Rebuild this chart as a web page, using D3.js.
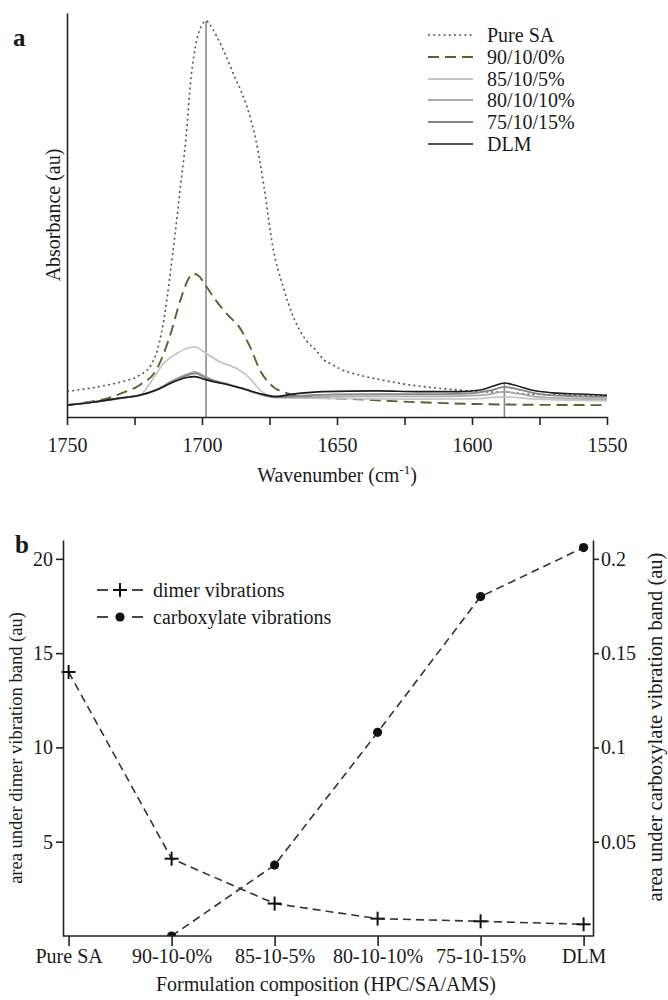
<!DOCTYPE html>
<html><head><meta charset="utf-8">
<script src="https://cdn.jsdelivr.net/npm/d3@7"></script>
<style>
body{margin:0;background:#fff}
svg{display:block}
text{font-family:"Liberation Serif","Times New Roman",serif;fill:#1a1a1a}
</style>
</head><body>
<svg id="c" width="668" height="1000"></svg>
<script>
// ---------- Panel a data (wavenumber, absorbance au) ----------
const wnTicks = [1750,1725,1700,1675,1650,1625,1600,1575,1550];
const wnLabels = ["1750","","1700","","1650","","1600","","1550"];

const pureSA = [[1750,0.065],[1742,0.072],[1735,0.081],[1729,0.090],[1723,0.106],[1719,0.13],[1716.5,0.17],[1714,0.25],[1712,0.35],[1710,0.46],[1708,0.58],[1706,0.70],[1704,0.86],[1702,0.95],[1700,0.99],[1698.5,1.0],[1697,0.99],[1694.3,0.958],[1691,0.91],[1688,0.86],[1685.6,0.824],[1683.3,0.782],[1680,0.698],[1677,0.58],[1673.8,0.43],[1670,0.33],[1666,0.25],[1661,0.19],[1658,0.17],[1655,0.145],[1652,0.133],[1649,0.122],[1640,0.103],[1633,0.093],[1625,0.083],[1617,0.076],[1608,0.070],[1601,0.066],[1595,0.063],[1588,0.063],[1580,0.058],[1570,0.056],[1560,0.055],[1550,0.054]];

const f90 = [[1750,0.030],[1742,0.038],[1735,0.047],[1729,0.062],[1723,0.081],[1717,0.118],[1712,0.202],[1708,0.295],[1705,0.349],[1703.2,0.362],[1701,0.355],[1699.5,0.341],[1695.8,0.303],[1690.9,0.261],[1686,0.225],[1682.2,0.177],[1678.5,0.118],[1673.6,0.076],[1668.6,0.060],[1661,0.051],[1651,0.047],[1640,0.044],[1626,0.039],[1610,0.035],[1600,0.033],[1580,0.031],[1550,0.030]];

const f85 = [[1750,0.030],[1740,0.038],[1730,0.047],[1723,0.055],[1719.3,0.085],[1714.3,0.135],[1709.4,0.160],[1705.7,0.173],[1702.6,0.177],[1698.3,0.160],[1693.3,0.139],[1689,0.128],[1686,0.118],[1682.2,0.097],[1678.5,0.068],[1673.6,0.051],[1660,0.048],[1640,0.046],[1620,0.045],[1600,0.046],[1588,0.051],[1576,0.045],[1550,0.041]];

const f80 = [[1750,0.030],[1740,0.038],[1730,0.048],[1723,0.055],[1717,0.068],[1711,0.091],[1706,0.107],[1702.5,0.114],[1699,0.103],[1695,0.091],[1690,0.082],[1684,0.069],[1678,0.056],[1673,0.049],[1665,0.049],[1650,0.052],[1630,0.052],[1610,0.052],[1600,0.054],[1593,0.058],[1588,0.064],[1583,0.059],[1575,0.050],[1565,0.047],[1550,0.045]];

const f75 = [[1750,0.030],[1740,0.038],[1730,0.048],[1723,0.055],[1717,0.068],[1711,0.090],[1706,0.104],[1702.5,0.110],[1699,0.100],[1695,0.090],[1690,0.082],[1684,0.070],[1678,0.057],[1673,0.050],[1665,0.053],[1650,0.057],[1630,0.058],[1610,0.058],[1600,0.060],[1593,0.067],[1588,0.076],[1583,0.070],[1575,0.058],[1565,0.053],[1550,0.051]];

const dlm = [[1750,0.030],[1740,0.038],[1730,0.048],[1723,0.055],[1717,0.068],[1711,0.087],[1706,0.099],[1702.5,0.102],[1699,0.095],[1695,0.088],[1690,0.081],[1684,0.070],[1678,0.058],[1673,0.052],[1665,0.059],[1655,0.064],[1635,0.066],[1620,0.064],[1605,0.064],[1597,0.068],[1592,0.078],[1588,0.086],[1584,0.080],[1578,0.068],[1570,0.061],[1560,0.058],[1550,0.055]];

const seriesNamesA = ["Pure SA","90/10/0%","85/10/5%","80/10/10%","75/10/15%","DLM"];
const refLines = [[1698.5,1.0],[1588,0.086]];

// ---------- Panel b data ----------
const categories = ["Pure SA","90-10-0%","85-10-5%","80-10-10%","75-10-15%","DLM"];
const dimer = [14.0,4.1,1.72,0.92,0.78,0.62];
const carboxylate = [null,0.0,0.0376,0.108,0.18,0.206];
const leftTicks = [5,10,15,20];
const rightTicks = [0.05,0.1,0.15,0.2];
const rightLabels = ["0.05","0.1","0.15","0.2"];

const svg = d3.select("#c");

// ================= Panel a =================
const xA = d3.scaleLinear().domain([1750,1550]).range([67,607]);
const yA = d3.scaleLinear().domain([0,1.02]).range([417,13]);

const styles = [
  {data:pureSA, stroke:"#555", w:1.6, dash:"2,3.2"},
  {data:f90, stroke:"#55652e", w:1.9, dash:"11,6"},
  {data:f85, stroke:"#c6c6c6", w:1.8, dash:null},
  {data:f80, stroke:"#a9a9a9", w:1.8, dash:null},
  {data:f75, stroke:"#858585", w:1.8, dash:null},
  {data:dlm, stroke:"#1a1a1a", w:1.6, dash:null}
];

const gA = svg.append("g");
// reference vertical lines
gA.selectAll("line.ref").data(refLines).join("line")
  .attr("x1",d=>xA(d[0])).attr("x2",d=>xA(d[0]))
  .attr("y1",d=>yA(d[1])).attr("y2",yA(0))
  .attr("stroke","#8a8a8a").attr("stroke-width",1.6);

const lineA = d3.line().x(d=>xA(d[0])).y(d=>yA(d[1])).curve(d3.curveMonotoneX);
// draw lighter first, black last
const order = [0,1,2,3,4,5];
order.forEach(i=>{
  const s = styles[i];
  gA.append("path").attr("d",lineA(s.data)).attr("fill","none")
    .attr("stroke",s.stroke).attr("stroke-width",s.w)
    .attr("stroke-dasharray",s.dash);
});

const axA = gA.append("g").attr("transform","translate(0,417)")
  .call(d3.axisBottom(xA).tickValues(wnTicks).tickFormat((d,i)=>wnLabels[i]).tickSize(8).tickPadding(13).tickSizeOuter(0));
axA.selectAll("path,line").attr("stroke","#222").attr("stroke-width",1.6);
axA.selectAll("text").attr("font-size",20).attr("fill","#1a1a1a").style("font-family",'"Liberation Serif",serif');

const ayA = gA.append("g").attr("transform","translate(67,0)")
  .call(d3.axisLeft(yA).tickValues([]).tickSizeOuter(0));
ayA.selectAll("path").attr("stroke","#222").attr("stroke-width",1.6);

gA.append("text").attr("x",13).attr("y",46).attr("font-size",25).attr("font-weight","bold").text("a");
gA.append("text").attr("transform","translate(60,215) rotate(-90)").attr("text-anchor","middle")
  .attr("font-size",20).text("Absorbance (au)");
const wl = gA.append("text").attr("x",337).attr("y",482).attr("text-anchor","middle").attr("font-size",20);
wl.append("tspan").text("Wavenumber (cm");
wl.append("tspan").attr("font-size",13).attr("dy",-8).text("-1");
wl.append("tspan").attr("dy",8).text(")");

// legend a
const legA = gA.append("g");
const legY = [35,57,79,100,122,144];
seriesNamesA.forEach((n,i)=>{
  const s = styles[i];
  legA.append("line").attr("x1",428).attr("x2",473).attr("y1",legY[i]).attr("y2",legY[i])
    .attr("stroke",s.stroke).attr("stroke-width",s.w).attr("stroke-dasharray",s.dash);
  legA.append("text").attr("x",487).attr("y",legY[i]+7).attr("font-size",20).text(n);
});

// ================= Panel b =================
const xB = d3.scalePoint().domain(categories).range([68.6,583.6]);
const yL = d3.scaleLinear().domain([0,21]).range([936,540]);
const yR = d3.scaleLinear().domain([0,0.21]).range([936,540]);
const gB = svg.append("g");

svg.append("defs").append("clipPath").attr("id","clipB").append("rect")
  .attr("x",63).attr("y",530).attr("width",530).attr("height",406);

// lines
const lineD = d3.line().x((d,i)=>xB(categories[i])).y(d=>yL(d));
gB.append("path").attr("d",lineD(dimer)).attr("fill","none").attr("stroke","#333")
  .attr("stroke-width",1.6).attr("stroke-dasharray","8,5");
const carbPts = carboxylate.map((v,i)=>[categories[i],v]).filter(d=>d[1]!==null);
const lineC = d3.line().x(d=>xB(d[0])).y(d=>yR(d[1]));
gB.append("path").attr("d",lineC(carbPts)).attr("fill","none").attr("stroke","#333")
  .attr("stroke-width",1.6).attr("stroke-dasharray","8,5");

// markers
const plus = (g,x,y)=>{
  g.append("line").attr("x1",x-7).attr("x2",x+7).attr("y1",y).attr("y2",y).attr("stroke","#111").attr("stroke-width",2);
  g.append("line").attr("x1",x).attr("x2",x).attr("y1",y-7).attr("y2",y+7).attr("stroke","#111").attr("stroke-width",2);
};
dimer.forEach((v,i)=>plus(gB,xB(categories[i]),yL(v)));
gB.append("g").attr("clip-path","url(#clipB)").selectAll("circle").data(carbPts).join("circle")
  .attr("cx",d=>xB(d[0])).attr("cy",d=>yR(d[1])).attr("r",4.6).attr("fill","#111");

// axes
const axL = gB.append("g").attr("transform","translate(63,0)")
  .call(d3.axisLeft(yL).tickValues(leftTicks).tickSize(7).tickPadding(3).tickSizeOuter(0));
const axR = gB.append("g").attr("transform","translate(593,0)")
  .call(d3.axisRight(yR).tickValues(rightTicks).tickFormat((d,i)=>rightLabels[i]).tickSize(6).tickPadding(2).tickSizeOuter(0));
const axB = gB.append("g").attr("transform","translate(0,936)")
  .call(d3.axisBottom(xB).tickSize(10).tickPadding(3).tickSizeOuter(0));
axB.select(".domain").remove();
gB.append("line").attr("x1",63).attr("x2",593).attr("y1",936).attr("y2",936).attr("stroke","#222").attr("stroke-width",1.6);
[axL,axR,axB].forEach(a=>{
  a.selectAll("path,line").attr("stroke","#222").attr("stroke-width",1.6);
  a.selectAll("text").attr("font-size",20).attr("fill","#1a1a1a").style("font-family",'"Liberation Serif",serif');
});

gB.append("text").attr("x",15).attr("y",553).attr("font-size",25).attr("font-weight","bold").text("b");
gB.append("text").attr("transform","translate(22,748) rotate(-90)").attr("text-anchor","middle")
  .attr("font-size",18.5).text("area under dimer vibration band (au)");
gB.append("text").attr("transform","translate(662,727) rotate(-90)").attr("text-anchor","middle")
  .attr("font-size",20.5).text("area under carboxylate vibration band (au)");
gB.append("text").attr("x",326).attr("y",991).attr("text-anchor","middle").attr("font-size",20)
  .text("Formulation composition (HPC/SA/AMS)");

// legend b
const legB = gB.append("g");
const legBY = [590,617];
const legBNames = ["dimer vibrations","carboxylate vibrations"];
legBY.forEach((y,i)=>{
  [[97,108],[132,143]].forEach(s=>legB.append("line").attr("x1",s[0]).attr("x2",s[1]).attr("y1",y).attr("y2",y)
    .attr("stroke","#333").attr("stroke-width",1.8));
  if(i===0) plus(legB,120,y); else legB.append("circle").attr("cx",120).attr("cy",y).attr("r",4.6).attr("fill","#111");
  legB.append("text").attr("x",153).attr("y",y+7).attr("font-size",20).text(legBNames[i]);
});
</script>
</body></html>
